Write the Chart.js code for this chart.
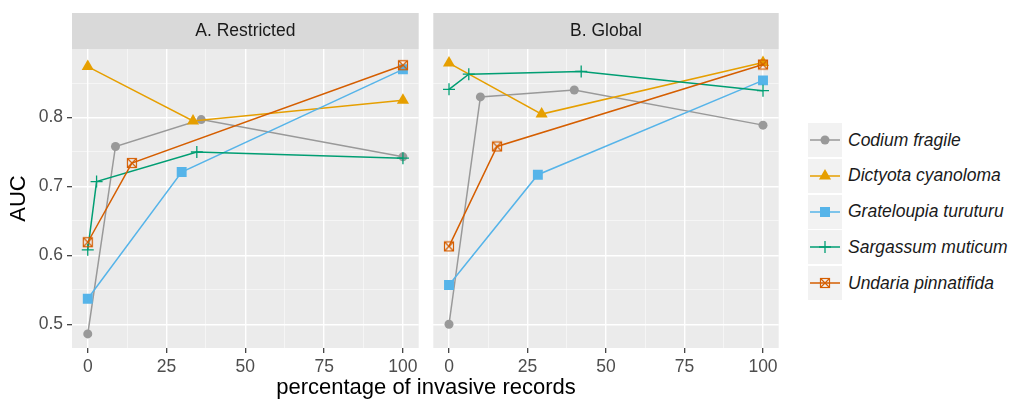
<!DOCTYPE html>
<html>
<head>
<meta charset="utf-8">
<script src="https://cdn.jsdelivr.net/npm/chart.js@4/dist/chart.umd.min.js"></script>
<style>
  body { margin: 0; background: #fff; width: 1020px; height: 402px; position: relative; overflow: hidden;
         font-family: "Liberation Sans", Arial, sans-serif; }
  canvas { position: absolute; top: 0; }
  #panelA { left: 0; }
  #panelB { left: 426px; }
  #xtitle { position: absolute; left: 0; width: 852px; top: 374px; text-align: center;
            font-size: 22px; line-height: 26px; color: #000; }
  #legend { position: absolute; left: 808px; top: 123px; }
  .item { display: flex; align-items: center; height: 34px; margin-bottom: 1.8px; }
  .key { width: 34px; height: 34px; background: #f2f2f2; }
  .lab { margin-left: 6px; font-style: italic; font-size: 17.5px; color: #1a1a1a; }
</style>
</head>
<body>
<canvas id="panelA" width="426" height="402"></canvas>
<canvas id="panelB" width="360" height="402"></canvas>
<div id="xtitle">percentage of invasive records</div>
<div id="legend"></div>
<script>
const species = ['Codium fragile', 'Dictyota cyanoloma', 'Grateloupia turuturu', 'Sargassum muticum', 'Undaria pinnatifida'];
const colors = ['#999999', '#E69F00', '#56B4E9', '#009E73', '#D55E00'];
const markers = ['circle', 'triangle', 'rect', 'cross', 'rectCross'];

// A. Restricted
const xRestricted = [[0, 8.8, 36, 100], [0, 33.4, 100], [0, 29.8, 100], [0, 2.8, 34.6, 100], [0, 14, 100]];
const aucRestricted = [[0.486, 0.758, 0.797, 0.743], [0.874, 0.795, 0.825], [0.537, 0.721, 0.870],
                       [0.608, 0.707, 0.750, 0.741], [0.619, 0.734, 0.876]];
// B. Global
const xGlobal = [[0, 10, 39.9, 100], [0, 29.5, 100], [0, 28.3, 100], [0, 6.3, 42.1, 100], [0, 15.3, 100]];
const aucGlobal = [[0.500, 0.830, 0.840, 0.789], [0.879, 0.805, 0.880], [0.557, 0.717, 0.854],
                   [0.841, 0.863, 0.867, 0.839], [0.613, 0.758, 0.877]];

const xMajor = [0, 25, 50, 75, 100];
const xMinor = [12.5, 37.5, 62.5, 87.5];
const yMajor = [0.5, 0.6, 0.7, 0.8];
const yMinor = [0.55, 0.65, 0.75, 0.85];

const xMin = -5, xMax = 105, yMin = 0.4655, yMax = 0.8995;

function rectCross(color) {
  const c = document.createElement('canvas');
  c.width = c.height = 12;
  const g = c.getContext('2d');
  g.strokeStyle = color;
  g.lineWidth = 1.2;
  g.strokeRect(1.5, 1.5, 9, 9);
  g.beginPath();
  g.moveTo(1.5, 1.5); g.lineTo(10.5, 10.5);
  g.moveTo(10.5, 1.5); g.lineTo(1.5, 10.5);
  g.stroke();
  return c;
}

const radii = { circle: 4.5, triangle: 7, rect: 7, cross: 6, rectCross: 6 };

function datasets(xs, ys) {
  return species.map((s, i) => ({
    label: s,
    data: xs[i].map((x, j) => ({ x: x, y: ys[i][j] })),
    showLine: true,
    borderColor: colors[i],
    backgroundColor: colors[i],
    borderWidth: 1.5,
    pointStyle: markers[i] === 'rectCross' ? rectCross(colors[i]) : markers[i],
    pointRadius: radii[markers[i]],
    pointBorderWidth: markers[i] === 'cross' ? 1.3 : 0,
    order: species.length - i
  }));
}

function gridOpts(major, drawTicks) {
  return {
    color: c => major.includes(c.tick.value) ? '#ffffff' : 'rgba(255,255,255,0.7)',
    lineWidth: c => major.includes(c.tick.value) ? 1.4 : 0.7,
    tickColor: c => major.includes(c.tick.value) ? '#333333' : 'rgba(0,0,0,0)',
    tickLength: 5,
    tickWidth: 1.2,
    drawTicks: drawTicks
  };
}

const stripPlugin = {
  id: 'strip',
  beforeDraw(chart, args, opts) {
    const { ctx, chartArea: a } = chart;
    ctx.save();
    ctx.fillStyle = '#d9d9d9';
    ctx.fillRect(a.left, 13, a.right - a.left, 36);
    ctx.fillStyle = '#ebebeb';
    ctx.fillRect(a.left, a.top, a.right - a.left, a.bottom - a.top);
    ctx.fillStyle = '#1a1a1a';
    ctx.font = '17.5px "Liberation Sans", Arial, sans-serif';
    ctx.textAlign = 'center';
    ctx.textBaseline = 'middle';
    ctx.fillText(opts.text, (a.left + a.right) / 2, 31);
    ctx.restore();
  }
};

function makePanel(id, title, xs, ys, showY) {
  const xTicks = xMajor.concat(xMinor).sort((a, b) => a - b);
  const yTicks = yMajor.concat(yMinor).sort((a, b) => a - b);
  new Chart(document.getElementById(id), {
    type: 'scatter',
    data: { datasets: datasets(xs, ys) },
    plugins: [stripPlugin],
    options: {
      responsive: false,
      devicePixelRatio: 1,
      animation: false,
      events: [],
      layout: { padding: { left: showY ? 0 : 6, right: 5, top: 49, bottom: 0 } },
      plugins: {
        legend: { display: false },
        tooltip: { enabled: false },
        strip: { text: title }
      },
      scales: {
        x: {
          type: 'linear', min: xMin, max: xMax,
          afterBuildTicks: s => { s.ticks = xTicks.map(v => ({ value: v })); },
          afterFit: s => { s.height = 54; },
          border: { display: false },
          grid: gridOpts(xMajor, true),
          ticks: {
            autoSkip: false, maxRotation: 0, padding: 4, color: '#4d4d4d',
            font: { family: '"Liberation Sans", Arial, sans-serif', size: 17.5 },
            callback: v => xMajor.includes(v) ? String(v) : ''
          }
        },
        y: {
          type: 'linear', min: yMin, max: yMax,
          afterBuildTicks: s => { s.ticks = yTicks.map(v => ({ value: v })); },
          afterFit: s => { s.width = showY ? 72 : 0; },
          border: { display: false },
          grid: gridOpts(yMajor, showY),
          ticks: {
            display: showY, autoSkip: false, padding: 4, color: '#4d4d4d',
            font: { family: '"Liberation Sans", Arial, sans-serif', size: 17.5 },
            callback: v => yMajor.includes(v) ? v.toFixed(1) : ''
          },
          title: {
            display: showY, text: 'AUC', color: '#000',
            font: { family: '"Liberation Sans", Arial, sans-serif', size: 22 },
            padding: { top: 6, bottom: 0 }
          }
        }
      }
    }
  });
}

makePanel('panelA', 'A. Restricted', xRestricted, aucRestricted, true);
makePanel('panelB', 'B. Global', xGlobal, aucGlobal, false);

function keySvg(i) {
  const c = colors[i];
  let m = '';
  if (markers[i] === 'circle') m = `<circle cx="17" cy="17" r="4.5" fill="${c}"/>`;
  if (markers[i] === 'triangle') m = `<polygon points="17,10 23.06,20.5 10.94,20.5" fill="${c}"/>`;
  if (markers[i] === 'rect') m = `<rect x="12" y="12" width="10" height="10" fill="${c}"/>`;
  if (markers[i] === 'cross') m = `<path d="M11 17H23M17 11V23" stroke="${c}" stroke-width="1.3"/>`;
  if (markers[i] === 'rectCross') m = `<rect x="12.5" y="12.5" width="9" height="9" fill="none" stroke="${c}" stroke-width="1.2"/>` +
    `<path d="M12.5 12.5L21.5 21.5M21.5 12.5L12.5 21.5" stroke="${c}" stroke-width="1.2"/>`;
  return `<svg width="34" height="34"><line x1="2" y1="17" x2="32" y2="17" stroke="${c}" stroke-width="1.5"/>${m}</svg>`;
}

document.getElementById('legend').innerHTML = species.map((s, i) =>
  `<div class="item"><div class="key">${keySvg(i)}</div><div class="lab">${s}</div></div>`).join('');
</script>
</body>
</html>
